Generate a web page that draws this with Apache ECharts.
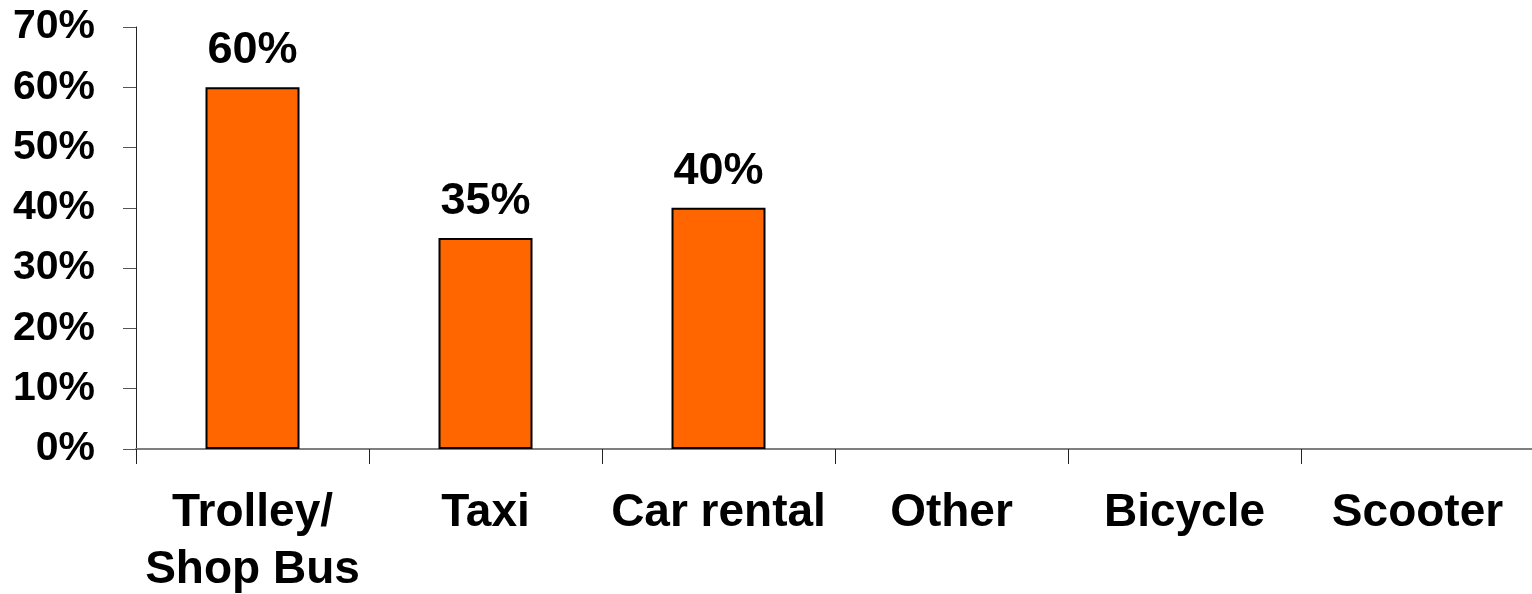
<!DOCTYPE html>
<html>
<head>
<meta charset="utf-8">
<script src="https://cdn.jsdelivr.net/npm/echarts@6/dist/echarts.min.js"></script>
<style>
  html, body { margin: 0; padding: 0; background: #ffffff; }
  #chart { width: 1532px; height: 594px; }
</style>
</head>
<body>
<div id="chart"></div>
<script>
// Transport modes and share of respondents (%)
const categories = ['Trolley/\nShop Bus', 'Taxi', 'Car rental', 'Other', 'Bicycle', 'Scooter'];
const shares = [60, 35, 40, null, null, null];
const yTicks = { min: 0, max: 70, interval: 10 };

const FONT = '"Liberation Sans", Arial, sans-serif';

const chart = echarts.init(document.getElementById('chart'), null, { renderer: 'canvas' });
chart.setOption({
  animation: false,
  backgroundColor: '#ffffff',
  grid: { left: 136, right: -2, top: 27, bottom: 145, containLabel: false, outerBoundsMode: 'none' },
  xAxis: {
    type: 'category',
    data: categories,
    boundaryGap: true,
    axisLine: { show: true, lineStyle: { color: '#7f7f7f', width: 2 } },
    axisTick: { show: true, alignWithLabel: false, length: 15, lineStyle: { color: '#222222', width: 1 } },
    axisLabel: {
      interval: 0,
      margin: 36,
      color: '#000000',
      fontFamily: FONT,
      fontWeight: 'bold',
      fontSize: 46,
      lineHeight: 57
    },
    splitLine: { show: false }
  },
  yAxis: {
    type: 'value',
    min: yTicks.min,
    max: yTicks.max,
    interval: yTicks.interval,
    axisLine: { show: true, lineStyle: { color: '#222222', width: 1 } },
    axisTick: { show: true, length: 13, lineStyle: { color: '#555555', width: 1 } },
    axisLabel: {
      margin: 41,
      color: '#000000',
      fontFamily: FONT,
      fontWeight: 'bold',
      fontSize: 41,
      formatter: '{value}%'
    },
    splitLine: { show: false }
  },
  series: [{
    type: 'bar',
    data: shares,
    barWidth: 94,
    itemStyle: { color: '#ff6600', borderColor: '#000000', borderWidth: 2 },
    label: {
      show: true,
      position: 'top',
      distance: 14,
      color: '#000000',
      fontFamily: FONT,
      fontWeight: 'bold',
      fontSize: 45,
      formatter: p => p.value + '%'
    }
  }]
});
</script>
</body>
</html>
